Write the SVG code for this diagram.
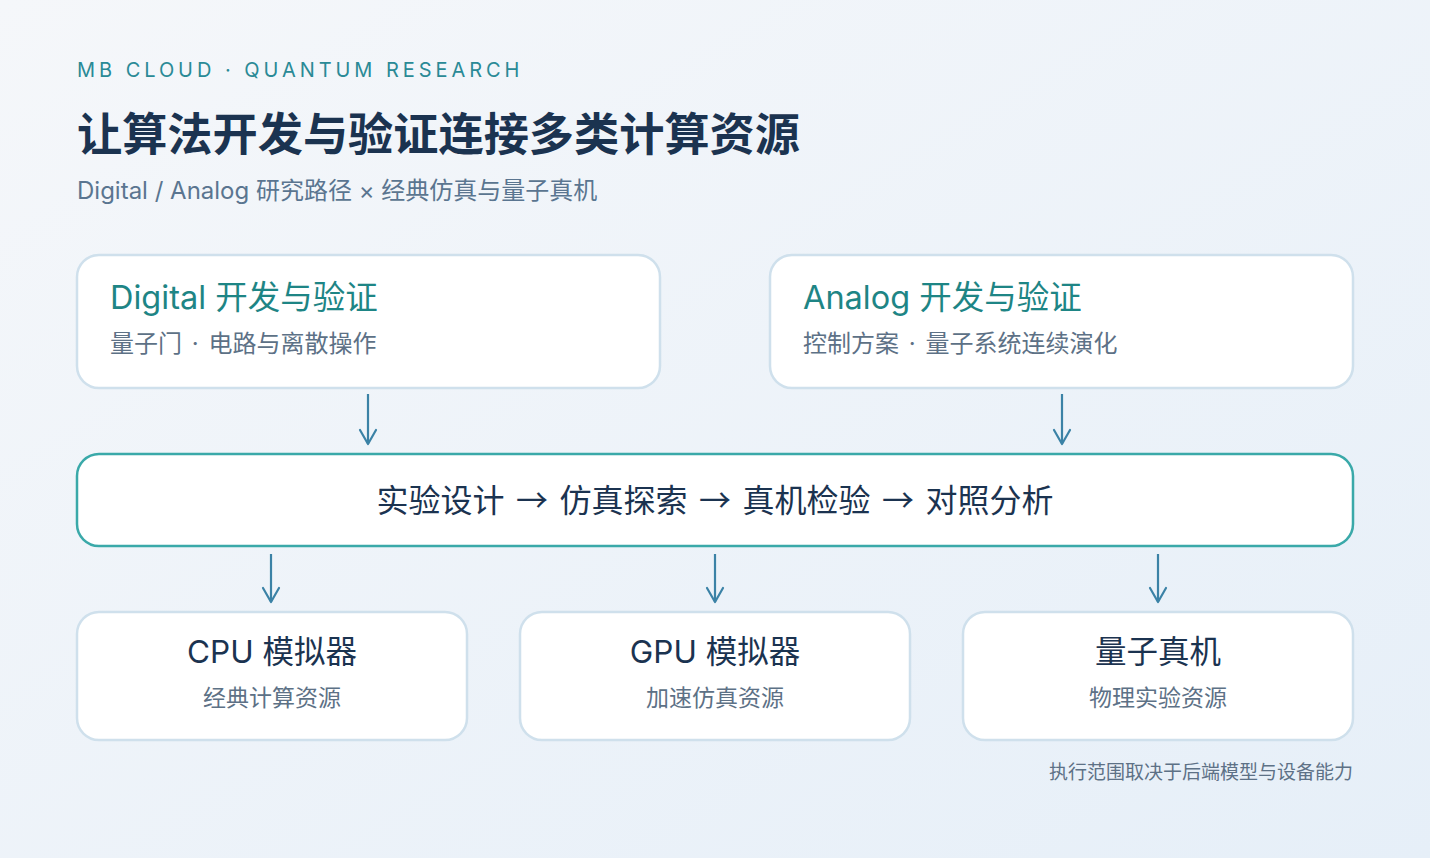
<svg xmlns="http://www.w3.org/2000/svg" width="1430" height="858" viewBox="0 0 1430 858">
<defs>
<linearGradient id="bg" x1="0" y1="0" x2="1" y2="1">
<stop offset="0" stop-color="#f5f7fa"/>
<stop offset="1" stop-color="#e6eff8"/>
</linearGradient>
<marker id="arr" viewBox="0 0 20 20" refX="18" refY="10" markerWidth="20" markerHeight="20" markerUnits="userSpaceOnUse" orient="auto">
<path d="M4 2 L18 10 L4 18" fill="none" stroke="#3b82a6" stroke-width="2.2" stroke-linecap="round" stroke-linejoin="round"/>
</marker>
<style>
text{font-family:Inter,"Noto Sans CJK SC",sans-serif}
.cjk{font-family:"Noto Sans CJK SC",sans-serif}
.card{fill:#ffffff;stroke:#cfe0ec;stroke-width:2.5}
.hub{fill:#ffffff;stroke:#3aa9a9;stroke-width:2.5}
.eyebrow{font-size:20px;fill:#2a8a96;letter-spacing:3.95px}
.title{font-size:45.2px;font-weight:700;fill:#1b3350}
.subtitle{font-size:24px;fill:#5a7590}
.ctitle{font-size:32.5px;fill:#1e8585}
.csub{font-size:24px;fill:#5d7186;word-spacing:3px}
.hubt{font-size:32px;fill:#1b3350;word-spacing:4.3px}
.btitle{font-size:31.5px;fill:#1b3350}
.bsub{font-size:23px;fill:#5d7186}
.note{font-size:19px;fill:#5d7186}
.conn{stroke:#3b82a6;stroke-width:2.2;fill:none;marker-end:url(#arr)}
</style>
</defs>
<rect width="1430" height="858" fill="url(#bg)"/>
<g id="header">
<text class="eyebrow" x="77" y="77">MB CLOUD · QUANTUM RESEARCH</text>
<text class="title" x="77" y="151">让算法开发与验证连接多类计算资源</text>
<text class="subtitle" x="77" y="199">Digital / Analog 研究路径 × 经典仿真与量子真机</text>
</g>
<g id="digital">
<rect class="card" x="77" y="255" width="583" height="133" rx="22"/>
<text class="ctitle" x="110" y="309">Digital 开发与验证</text>
<text class="csub" x="110" y="352">量子门 · 电路与离散操作</text>
</g>
<g id="analog">
<rect class="card" x="770" y="255" width="583" height="133" rx="22"/>
<text class="ctitle" x="803" y="309">Analog 开发与验证</text>
<text class="csub" x="803" y="352">控制方案 · 量子系统连续演化</text>
</g>
<g id="workflow">
<rect class="hub" x="77" y="454" width="1276" height="92" rx="22"/>
<text class="hubt cjk" x="715" y="512" text-anchor="middle">实验设计 → 仿真探索 → 真机检验 → 对照分析</text>
</g>
<g id="cpu">
<rect class="card" x="77" y="612" width="390" height="128" rx="22"/>
<text class="btitle" x="272" y="663" text-anchor="middle">CPU 模拟器</text>
<text class="bsub" x="272" y="706" text-anchor="middle">经典计算资源</text>
</g>
<g id="gpu">
<rect class="card" x="520" y="612" width="390" height="128" rx="22"/>
<text class="btitle" x="715" y="663" text-anchor="middle">GPU 模拟器</text>
<text class="bsub" x="715" y="706" text-anchor="middle">加速仿真资源</text>
</g>
<g id="qpu">
<rect class="card" x="963" y="612" width="390" height="128" rx="22"/>
<text class="btitle" x="1158" y="663" text-anchor="middle">量子真机</text>
<text class="bsub" x="1158" y="706" text-anchor="middle">物理实验资源</text>
</g>
<g id="connectors">
<line class="conn" x1="368" y1="394" x2="368" y2="444"/>
<line class="conn" x1="1062" y1="394" x2="1062" y2="444"/>
<line class="conn" x1="271" y1="554" x2="271" y2="602"/>
<line class="conn" x1="715" y1="554" x2="715" y2="602"/>
<line class="conn" x1="1158" y1="554" x2="1158" y2="602"/>
</g>
<text class="note" x="1353" y="779" text-anchor="end">执行范围取决于后端模型与设备能力</text>
</svg>
